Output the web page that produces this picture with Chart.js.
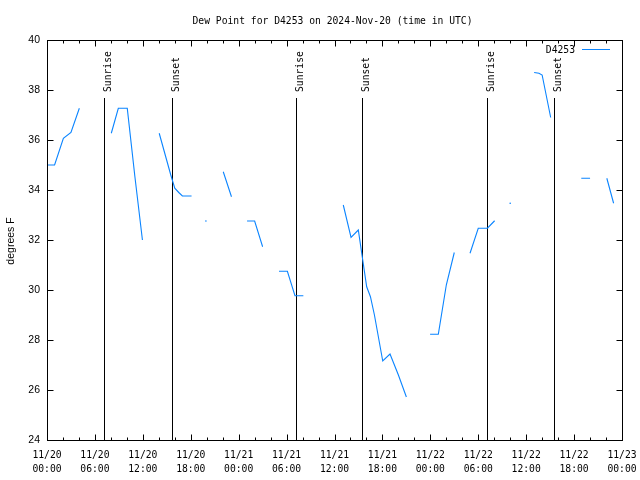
<!DOCTYPE html>
<html>
<head>
<meta charset="utf-8">
<title>Dew Point for D4253</title>
<script src="https://cdn.jsdelivr.net/npm/chart.js@4.4.1/dist/chart.umd.min.js"></script>
<style>
  html, body { margin: 0; padding: 0; background: #fff; }
  canvas { display: block; }
</style>
</head>
<body>
<canvas id="dew" width="640" height="480"></canvas>
<script>

// hours since 2024-11-20 00:00 UTC, a null reading breaks the line
const hours = [
  0, 0.95, 2.05, 3.0, 4.05, 6,
  8.05, 8.93, 10.05, 11.0, 11.95, 13,
  14.05, 15.5, 16.0, 16.5, 16.95, 18.1, 19,
  19.9, 21,
  22.07, 23.1, 24,
  25.05, 26.0, 27.0, 28,
  29.05, 30.1, 31.05, 32.1, 34,
  37.1, 38.07, 38.98, 40.03, 40.5, 41.0, 42.04, 42.95, 44.0, 45.0, 46,
  47.97, 49.0, 50.0, 51.0, 52,
  52.97, 54.0, 55.15, 56.05, 57,
  58.0, 59,
  61.0, 61.6, 62.0, 63.07, 64,
  66.9, 68.0, 69,
  70.1, 70.95
]
const dewPoint = [
  35.0, 35.0, 36.07, 36.3, 37.27, null,
  36.27, 37.27, 37.27, 34.55, 32.0, null,
  36.27, 34.6, 34.07, 33.9, 33.76, 33.76, null,
  32.76, null,
  34.73, 33.73, null,
  32.76, 32.76, 31.73, null,
  30.75, 30.75, 29.77, 29.77, null,
  33.4, 32.1, 32.4, 30.13, 29.73, 29.0, 27.16, 27.44, 26.6, 25.72, null,
  28.23, 28.23, 30.2, 31.5, null,
  31.47, 32.47, 32.47, 32.77, null,
  33.47, null,
  38.7, 38.67, 38.6, 36.9, null,
  34.47, 34.47, null,
  34.47, 33.47
]

const tickDates = ['11/20', '11/20', '11/20', '11/20', '11/21', '11/21', '11/21', '11/21', '11/22', '11/22', '11/22', '11/22', '11/23']
const tickTimes = ['00:00', '06:00', '12:00', '18:00', '00:00', '06:00', '12:00', '18:00', '00:00', '06:00', '12:00', '18:00', '00:00']

const sunEvents = ['Sunrise', 'Sunset', 'Sunrise', 'Sunset', 'Sunrise', 'Sunset']
const sunHours = [7.18, 15.61, 31.14, 39.48, 55.13, 63.49]

const stationName = 'D4253'
const titleText = 'Dew Point for D4253 on 2024-Nov-20 (time in UTC)'
const yTitle = 'degrees F'

const LINE_COLOR = '#0a84ff'
const MONO = '"DejaVu Sans Mono", monospace'
const SANS = '"Liberation Sans", Arial, sans-serif'


// single readings with no neighbours get a tiny dot, like gnuplot does
function isolated(i) {
  return dewPoint[i] !== null && dewPoint[i - 1] == null && dewPoint[i + 1] == null
}

const crisp = (v) => Math.round(v) + 0.5

const gnuplotFrame = {
  id: 'gnuplotFrame',

  beforeDatasetsDraw(chart) {
    // sunrise / sunset markers
    const { ctx, chartArea: a, scales: { x } } = chart
    ctx.save()
    ctx.strokeStyle = '#000'
    ctx.fillStyle = '#000'
    ctx.lineWidth = 1
    ctx.font = '9.7px ' + MONO
    sunHours.forEach((h, i) => {
      const px = crisp(x.getPixelForValue(h))
      ctx.beginPath()
      ctx.moveTo(px, a.top + 58)
      ctx.lineTo(px, a.bottom)
      ctx.stroke()

      ctx.save()
      ctx.translate(px + 6, a.top + 52)
      ctx.rotate(-Math.PI / 2)
      ctx.textAlign = 'left'
      ctx.textBaseline = 'alphabetic'
      ctx.fillText(sunEvents[i], 0, 0)
      ctx.restore()
    })
    ctx.restore()
  },

  afterDraw(chart) {
    const { ctx, chartArea: a, scales: { x, y } } = chart
    const L = crisp(a.left), R = crisp(a.right), T = crisp(a.top), B = crisp(a.bottom)
    ctx.save()
    ctx.strokeStyle = '#000'
    ctx.lineWidth = 1

    // border
    ctx.strokeRect(L, T, R - L, B - T)

    // x ticks, mirrored on top: major every 6 h, minor every 2 h
    ctx.beginPath()
    for (let h = 0; h <= 72; h += 2) {
      const px = crisp(x.getPixelForValue(h))
      const len = (h % 6 === 0) ? 6 : 3
      ctx.moveTo(px, B); ctx.lineTo(px, B - len)
      ctx.moveTo(px, T); ctx.lineTo(px, T + len)
    }
    // y ticks, mirrored on the right
    for (let v = 24; v <= 40; v += 2) {
      const py = crisp(y.getPixelForValue(v))
      ctx.moveTo(L, py); ctx.lineTo(L + 6, py)
      ctx.moveTo(R, py); ctx.lineTo(R - 6, py)
    }
    ctx.stroke()

    // title
    ctx.fillStyle = '#000'
    ctx.font = '9.7px ' + MONO
    ctx.textAlign = 'center'
    ctx.textBaseline = 'alphabetic'
    ctx.fillText(titleText, (a.left + a.right) / 2 - 2, 24)

    // key
    ctx.textAlign = 'right'
    ctx.textBaseline = 'middle'
    ctx.fillText(stationName, a.right - 47, a.top + 10)
    ctx.strokeStyle = LINE_COLOR
    ctx.beginPath()
    ctx.moveTo(a.right - 40, crisp(a.top + 9))
    ctx.lineTo(a.right - 12, crisp(a.top + 9))
    ctx.stroke()

    // y axis title
    ctx.save()
    ctx.translate(14, (a.top + a.bottom) / 2 + 1)
    ctx.rotate(-Math.PI / 2)
    ctx.font = '10.5px ' + SANS
    ctx.textAlign = 'center'
    ctx.textBaseline = 'alphabetic'
    ctx.fillText(yTitle, 0, 0)
    ctx.restore()

    ctx.restore()
  }
}

const points = hours.map((h, i) => ({ x: h, y: dewPoint[i] }))

new Chart(document.getElementById('dew'), {
  type: 'line',
  data: {
    datasets: [{
      label: stationName,
      data: points,
      borderColor: LINE_COLOR,
      backgroundColor: LINE_COLOR,
      borderWidth: 1.1,
      tension: 0,
      spanGaps: false,
      pointRadius: (c) => isolated(c.dataIndex) ? 0.8 : 0,
      pointBorderWidth: 0,
      pointHoverRadius: 0
    }]
  },
  options: {
    responsive: false,
    animation: false,
    devicePixelRatio: 1,
    layout: { padding: { top: 40, right: 18, left: 0, bottom: 0 } },
    plugins: {
      legend: { display: false },
      title: { display: false },
      tooltip: { enabled: false }
    },
    scales: {
      x: {
        type: 'linear',
        min: 0,
        max: 72,
        grid: { display: false, drawTicks: false },
        border: { display: false },
        afterFit: (s) => {
          s.height = 40
          // let the end labels spill past the frame instead of shrinking it
          s.paddingLeft = 0
          s.paddingRight = 0
        },
        afterBuildTicks: (s) => { s.ticks = tickDates.map((d, i) => ({ value: i * 6 })) },
        ticks: {
          autoSkip: false,
          maxRotation: 0,
          padding: 8,
          color: '#000',
          font: { family: MONO, size: 9.7, lineHeight: 1.45 },
          callback: (v, i) => [tickDates[i], tickTimes[i]]
        }
      },
      y: {
        min: 24,
        max: 40,
        grid: { display: false, drawTicks: false },
        border: { display: false },
        afterFit: (s) => {
          s.width = 47
          s.paddingTop = 0
          s.paddingBottom = 0
        },
        ticks: {
          stepSize: 2,
          padding: 7,
          color: '#000',
          font: { family: SANS, size: 10.5 }
        }
      }
    }
  },
  plugins: [gnuplotFrame]
})
</script>
</body>
</html>
